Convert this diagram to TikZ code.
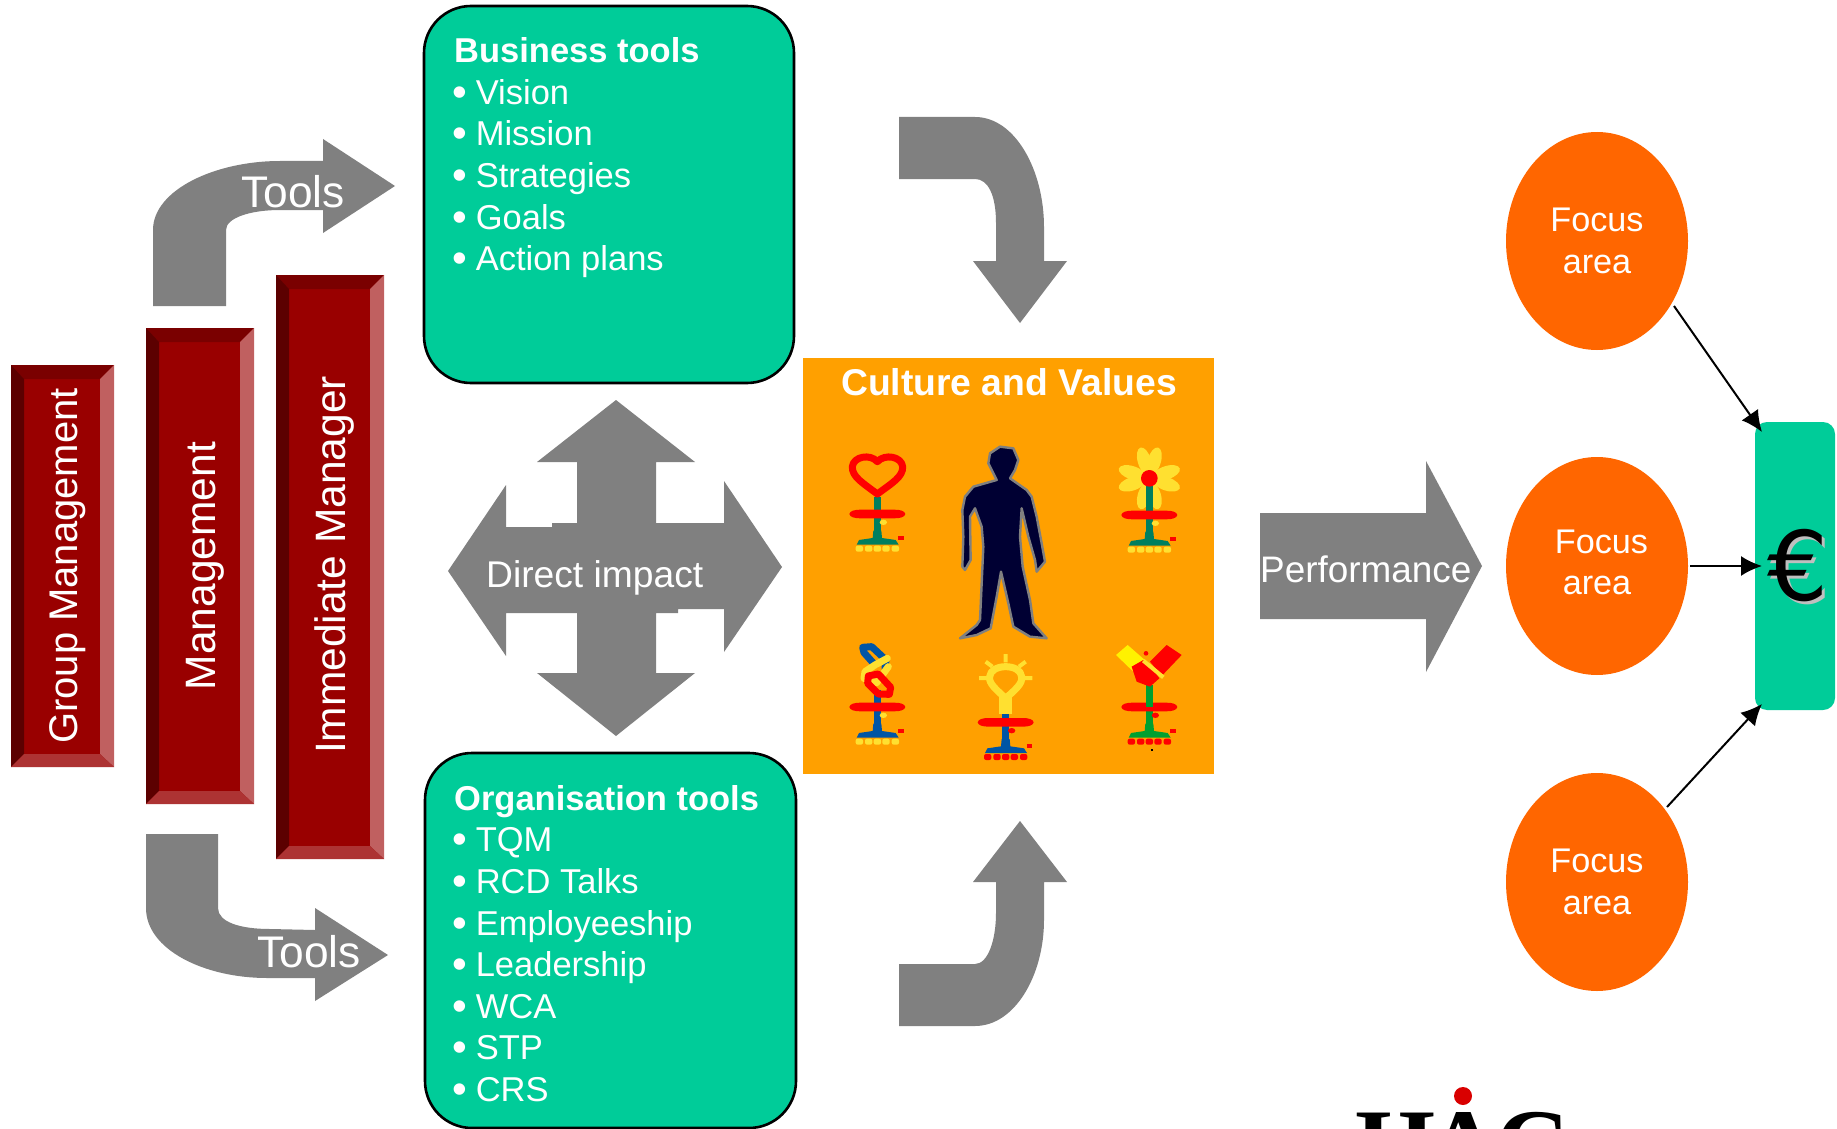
\documentclass[tikz,border=0pt]{standalone}
\usepackage{fontspec}
\setmainfont{Liberation Sans}
\newfontfamily\logofont{Liberation Serif}
\newfontfamily\eurofont{DejaVu Sans}
\usetikzlibrary{arrows.meta,shapes.geometric,calc}
\definecolor{toolgreen}{HTML}{00CC99}
\definecolor{arrowgray}{HTML}{808080}
\definecolor{cultorange}{HTML}{FFA000}
\definecolor{focusorange}{HTML}{FF6600}
\definecolor{barred}{HTML}{990000}
\definecolor{bevtop}{HTML}{7A0000}
\definecolor{bevleft}{HTML}{5C0000}
\definecolor{bevright}{HTML}{C06060}
\definecolor{bevbottom}{HTML}{AD3333}
\definecolor{plantgreen}{HTML}{007F5F}
\definecolor{plantblue}{HTML}{0055A5}
\definecolor{plantgreenb}{HTML}{00A030}
\definecolor{plantyellow}{HTML}{FFE030}
\definecolor{personnavy}{HTML}{000033}
\tikzset{
  bigarrow/.style={fill=arrowgray,draw=none},
  onarrow/.style={text=white,inner sep=0pt,font=\fontsize{#1}{#1}\selectfont},
  onarrow/.default=36,
  barlabel/.style={text=white,inner sep=0pt,rotate=90,anchor=base,font=\fontsize{#1}{#1}\selectfont},
  toolbox/.style={draw=black,line width=2.6pt,fill=toolgreen,rounded corners=47pt,inner sep=0pt},
  toollist/.style={text=white,inner sep=0pt,anchor=north west,align=left,font=\fontsize{34.5}{41.6}\selectfont},
  focus/.style={ellipse,fill=focusorange,draw=none,minimum width=182pt,minimum height=218pt,inner sep=0pt,text=white,align=center,font=\fontsize{34.2}{41.6}\selectfont},
  focuslabel/.style={inner sep=0pt,text=white,align=center,font=\fontsize{34.2}{41.6}\selectfont},
  conn/.style={draw=black,line width=2pt,-{Latex[length=21pt,width=20pt]}},
  thick plant/.style={line width=#1,line cap=round,line join=round},
}
\newcommand{\bl}{\makebox[21.6pt][l]{\hspace*{-1.5pt}\raisebox{-2pt}{\scalebox{1.22}{•}}}}
\newcommand{\bevelbar}[5]{% name, left, top, right, bottom
  \node[fill=barred,inner sep=0pt,minimum width=#4pt-#2pt,minimum height=#5pt-#3pt] (#1) at ({(#2+#4)/2},{(#3+#5)/2}) {};
  \fill[bevtop] (#2,#3) -- (#4,#3) -- (#4-14,#3+14) -- (#2+13,#3+14) -- cycle;
  \fill[bevleft] (#2,#3) -- (#2+13,#3+14) -- (#2+13,#5-13) -- (#2,#5) -- cycle;
  \fill[bevright] (#4,#3) -- (#4-14,#3+14) -- (#4-14,#5-13) -- (#4,#5) -- cycle;
  \fill[bevbottom] (#2,#5) -- (#2+13,#5-13) -- (#4-14,#5-13) -- (#4,#5) -- cycle;
}
\newcommand{\plantstand}[5]{% x, y, stem colour, dot colour, splat colour
  \begin{scope}[shift={(#1,#2)}]
    \fill[#3] (-10,-50) rectangle (10,60);
    \fill[#3] (-12,50) -- (12,50) -- (14,72) -- (55,78) -- (64,92) -- (-62,92) -- (-55,78) -- (-14,72) -- cycle;
    \foreach \dx in {-54,-26,0,26,54}{
      \fill[#4,rounded corners=2pt] (\dx-11,95) rectangle (\dx+11,113);
    }
    \fill[red] (63,66) rectangle (80,78);
    \fill[#5] (18,25) ellipse (11 and 8);
    \fill[red] (-84,0) .. controls (-82,-9) and (-70,-13) .. (-50,-13) -- (50,-13) .. controls (70,-13) and (82,-9) .. (84,0) .. controls (82,9) and (70,13) .. (50,13) -- (-50,13) .. controls (-70,13) and (-82,9) .. (-84,0) -- cycle;
  \end{scope}
}
\begin{document}
\begin{tikzpicture}[x=1pt,y=-1pt]
\useasboundingbox (0,0) rectangle (1837,1129);
\fill[white] (0,0) rectangle (1837,1129);

% logo, cut by the lower edge
\begin{scope}
  \clip (0,0) rectangle (1837,1129);
  \node[inner sep=0pt,anchor=base west,font=\logofont\bfseries\fontsize{103}{103}\selectfont] (logo) at (1355,1180) {H\kern-9pt A\kern-5pt C};
  \fill[red!85!black] (1463,1096) circle (9);
\end{scope}

% manager bars
\bevelbar{barg}{11}{365}{114}{767}
\bevelbar{barm}{146}{328}{254}{804}
\bevelbar{bari}{276}{275}{384}{859}
\node[barlabel=40] (lg) at (77.5,566) {Group Management};
\node[barlabel=42.5] (lm) at (215.5,566) {Management};
\node[barlabel=42.5] (li) at (345.5,565) {Immediate Manager};

% curved tool arrows
\fill[bigarrow] (153,306) -- (153,230) .. controls (153,190) and (215,161) .. (280,161) -- (323,161) -- (323,139) -- (395,186) -- (323,233) -- (323,210) -- (280,210) .. controls (250,210) and (226,218) .. (226,230) -- (226,306) -- cycle;
\node[onarrow=44.3,anchor=base west] (t1) at (241,207) {Tools};
\fill[bigarrow] (146,834) -- (146,908) .. controls (146,950) and (205,978) .. (267,978) -- (315,978) -- (315,1001) -- (388,955) -- (315,908) -- (315,930) -- (270,929) .. controls (240,929) and (218,922) .. (218,908) -- (218,834) -- cycle;
\node[onarrow=44.3,anchor=base west] (t2) at (257,967) {Tools};

% tool boxes
\node[toolbox,minimum width=370pt,minimum height=377pt] (biz) at (609,194.5) {};
\node[toollist] (bizt) at (454,37.5) {\textbf{Business tools}\\\bl Vision\\\bl Mission\\\bl Strategies\\\bl Goals\\\bl Action plans};
\node[toolbox,minimum width=371pt,minimum height=375pt] (org) at (610.5,940.5) {};
\node[toollist] (orgt) at (454,785) {\textbf{Organisation tools}\\\bl TQM\\\bl RCD Talks\\\bl Employeeship\\\bl Leadership\\\bl WCA\\\bl STP\\\bl CRS};

% direct impact cross
\fill[bigarrow] (616,400) -- (695,462) -- (656,462) -- (656,523) -- (724,523) -- (724,481) -- (782,567) -- (724,652) -- (724,609) -- (678,609) -- (678,613) -- (656,613) -- (656,673) -- (695,673) -- (616,736) -- (537,673) -- (577,673) -- (577,613) -- (506,613) -- (506,656) -- (448,571) -- (506,485) -- (506,527) -- (552,527) -- (552,523) -- (577,523) -- (577,462) -- (537,462) -- cycle;
\node[onarrow=37.2,anchor=base west] (di) at (486,587) {Direct impact};

% arrows into culture box
\fill[bigarrow] (899,117) -- (975,117) .. controls (1015,117) and (1044,170) .. (1044,227) -- (1044,261) -- (1067,261) -- (1020,323) -- (973,261) -- (996,261) -- (996,223) .. controls (996,195) and (988,179) .. (975,179) -- (899,179) -- cycle;
\fill[bigarrow] (899,1026) -- (975,1026) .. controls (1015,1026) and (1044,975) .. (1044,920) -- (1044,882) -- (1067,882) -- (1020,821) -- (973,882) -- (996,882) -- (996,913) .. controls (996,940) and (988,964) .. (975,964) -- (899,964) -- cycle;

% culture box
\node[fill=cultorange,inner sep=0pt,minimum width=411pt,minimum height=416pt] (cult) at (1008.5,566) {};
\node[text=white,inner sep=0pt,anchor=base,font=\bfseries\fontsize{37.3}{37.3}\selectfont] (cultt) at (1009,395) {Culture and Values};

\begin{scope}[shift={(800,350)},x=.33333pt,y=-.33333pt]
  % person
  \draw[fill=personnavy,draw=arrowgray,line width=2.4pt,line join=round]
    (600,290) -- (640,295) -- (655,330) -- (645,360) -- (630,385) -- (680,420) -- (695,440) -- (710,500) -- (725,580) -- (735,635) -- (710,665) -- (705,630) -- (685,560) -- (665,475) -- (660,560) -- (668,650) -- (690,750) -- (700,820) -- (740,865) -- (690,860) -- (640,830) -- (625,760) -- (603,665) -- (590,740) -- (572,835) -- (530,855) -- (480,865) -- (530,825) -- (540,810) -- (545,700) -- (550,590) -- (545,530) -- (525,475) -- (510,500) -- (512,630) -- (495,660) -- (487,650) -- (490,560) -- (487,480) -- (495,440) -- (520,410) -- (590,390) -- (565,340) -- (570,310) -- cycle;
  % heart plant
  \plantstand{232}{492}{plantgreen}{plantyellow}{plantyellow}
  \draw[red,thick plant=7pt] (232,432) .. controls (190,400) and (155,380) .. (157,350) .. controls (160,320) and (210,310) .. (232,335) .. controls (255,310) and (305,320) .. (308,350) .. controls (310,380) and (275,400) .. (232,432) -- cycle;
  % sunflower plant
  \plantstand{1048}{495}{plantgreen}{plantyellow}{plantyellow}
  \foreach \a in {74,106,18,162,-18,198,-74,-106}{
    \fill[plantyellow,shift={(1048,385)},rotate=-\a] (54,0) ellipse (42 and 20);
  }
  \fill[plantgreen] (1038,400) rectangle (1058,480);
  \fill[red] (1048,385) circle (25);
  % chain plant
  \plantstand{232}{1071}{plantblue}{plantyellow}{plantyellow}
  \draw[plantblue,thick plant=7pt] (225,945) -- (192,908) -- (188,892) -- (215,890) -- (258,930) -- (255,955);
  \draw[plantyellow,thick plant=7pt] (262,925) -- (225,945) -- (195,965) -- (192,985) -- (230,998) -- (265,950);
  \draw[red,thick plant=7pt] (205,978) -- (235,972) -- (272,1012) -- (268,1033) -- (235,1032) -- (203,1000) -- cycle;
  % bulb plant
  \plantstand{617}{1117}{plantblue}{red}{red}
  \fill[plantyellow] (597,1040) rectangle (635,1093);
  \draw[plantyellow,thick plant=7pt] (617,1045) .. controls (590,1020) and (565,1000) .. (569,980) .. controls (572,940) and (662,940) .. (665,980) .. controls (669,1000) and (645,1020) .. (617,1045) -- cycle;
  \draw[plantyellow,line width=4pt] (617,912) -- (617,937) (557,935) -- (577,950) (677,935) -- (657,950) (537,984) -- (562,984) (697,984) -- (672,984);
  % handshake plant
  \plantstand{1048}{1071}{plantgreenb}{red}{red}
  \fill[plantgreenb] (1037,1005) rectangle (1060,1071);
  \fill[yellow] (983,885) -- (1040,935) -- (1000,965) -- (948,915) -- cycle;
  \fill[red] (1100,885) -- (1145,915) -- (1085,978) -- (1050,935) -- cycle;
  \fill[red] (995,950) -- (1030,930) -- (1050,945) -- (1078,985) -- (1050,1010) -- (1010,995) -- cycle;
  \draw[plantyellow,line width=4pt] (1030,932) -- (1090,982);
  \fill[red] (1038,910) circle (7);
  \fill[black] (1054,1197) rectangle (1059,1202);
\end{scope}

% performance arrow
\fill[bigarrow] (1260,513) -- (1426,513) -- (1426,461) -- (1482,566) -- (1426,672) -- (1426,619) -- (1260,619) -- cycle;
\node[onarrow=36.9,anchor=base west] (perf) at (1260,582) {Performance};

% focus areas
\node[focus] (f1) at (1597,241) {Focus\\area};
\node[focus] (f2) at (1597,566) {};
\node[focuslabel] (f2t) at (1597,562.5) {\hspace*{9pt}Focus\\area};
\node[focus] (f3) at (1597,882) {Focus\\area};

% euro box
\node[fill=toolgreen,rounded corners=12pt,inner sep=0pt,minimum width=80pt,minimum height=288pt] (eu) at (1795,566) {};
\node[inner sep=0pt,text=black!25,font=\eurofont\fontsize{96}{96}\selectfont] (eus) at (1801,569) {€};
\node[inner sep=0pt,text=black,font=\eurofont\fontsize{96}{96}\selectfont] (eut) at (1798,566) {€};

% connectors
\coordinate (e1) at (1762,432);
\coordinate (e2) at (1762,566);
\coordinate (e3) at (1762,704);
\coordinate (s1) at (1674,306);
\coordinate (s2) at (1690,566);
\coordinate (s3) at (1667,807);
\draw[conn] (s1) -- (e1);
\draw[conn] (s2) -- (e2);
\draw[conn] (s3) -- (e3);
\end{tikzpicture}
\end{document}
